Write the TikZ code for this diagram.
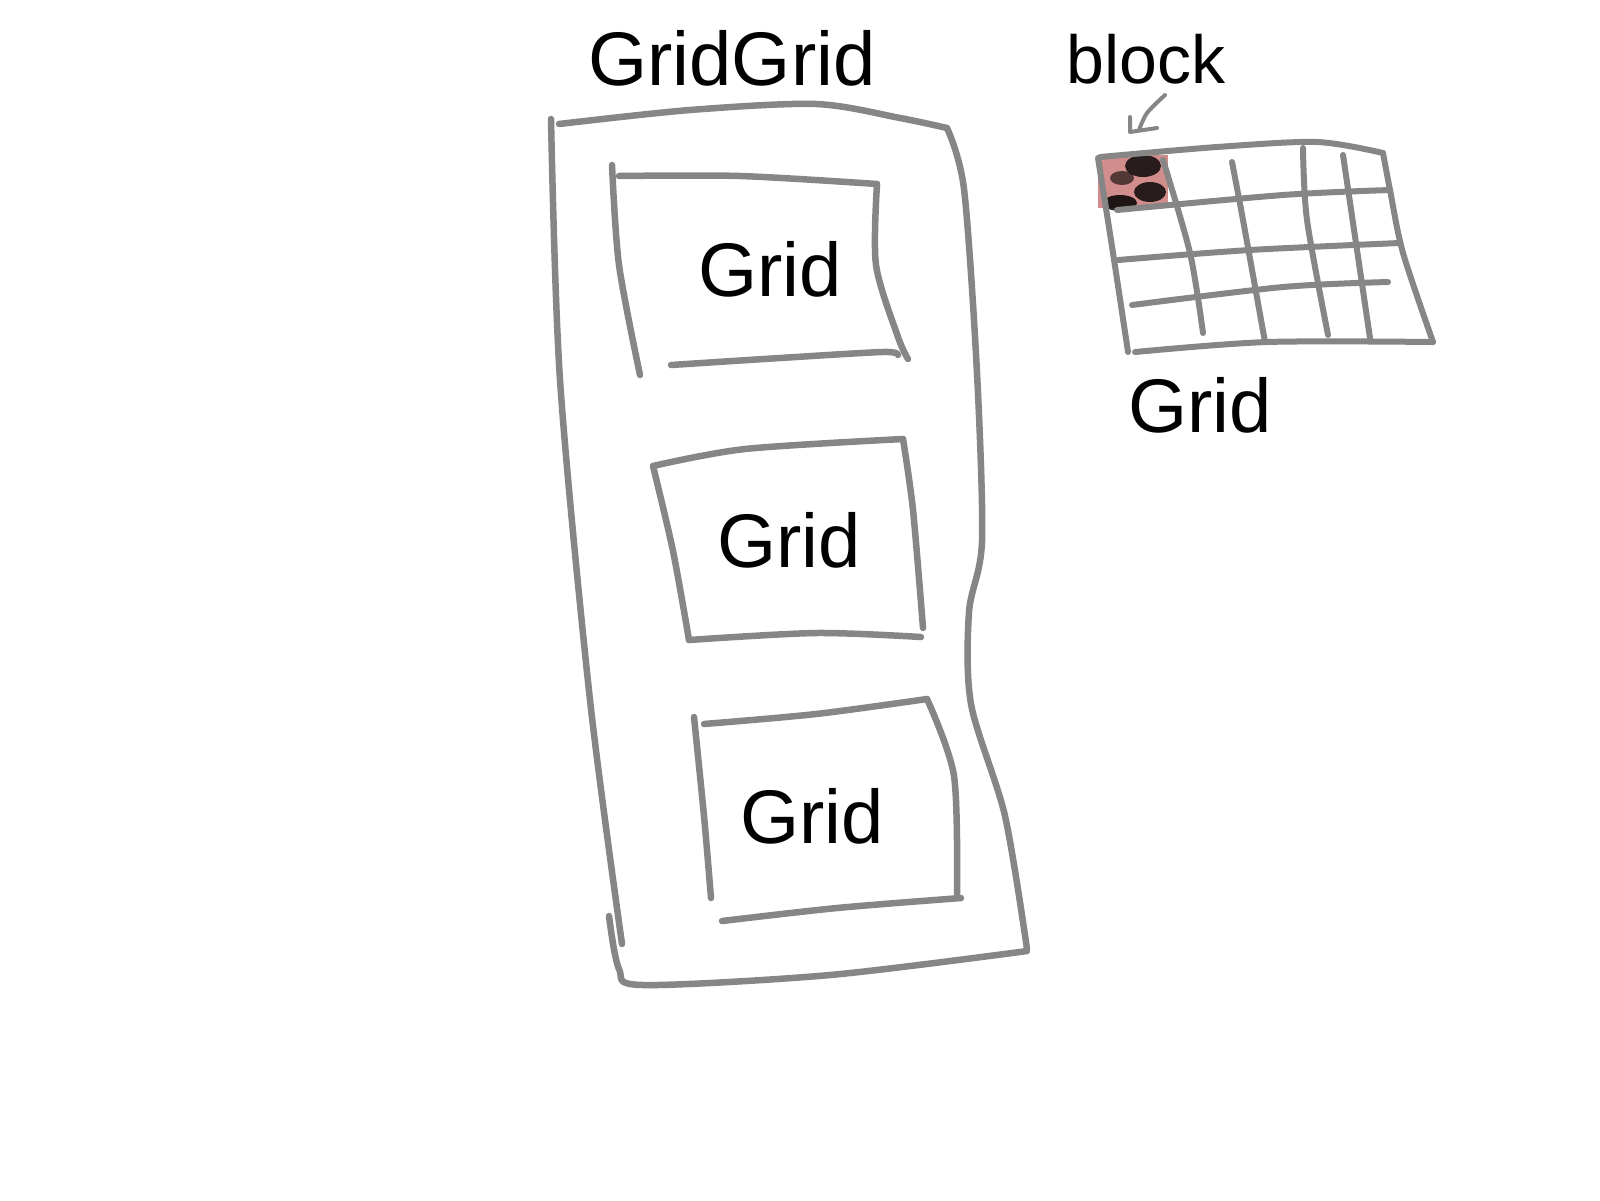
\documentclass[tikz,border=0pt]{standalone}
\usepackage{fontspec}
\setmainfont{Liberation Sans}
\usepackage{tikz}

\begin{document}
\begin{tikzpicture}[x=1pt, y=-1pt,
	stroke/.style={draw=gray!95, line width=6.5pt, line cap=round, line join=round},
	thin stroke/.style={stroke, line width=6pt},
	big label/.style={anchor=base, inner sep=0pt, font=\fontsize{76}{80}\selectfont},
	small label/.style={anchor=base, inner sep=0pt, font=\fontsize{68}{72}\selectfont}]
	\useasboundingbox (0,0) rectangle (1600,1200);
	% outer GridGrid box
	\draw[stroke] plot[smooth, tension=.5] coordinates {(559,124) (690,110) (816,104) (900,118) (947,128)};
	\draw[stroke] plot[smooth, tension=.5] coordinates {(551,119) (560,380) (590,700) (622,944)};
	\draw[stroke] plot[smooth, tension=.5] coordinates {(609,916) (619,969) (643,985) (830,975) (1027,951)};
	\draw[stroke] plot[smooth, tension=.5] coordinates {(947,128) (964,189) (977,373) (982,541) (969,612) (971,704) (1005,816) (1027,949)};
	% first Grid
	\draw[stroke] plot[smooth, tension=.5] coordinates {(619,176) (740,176) (877,184)};
	\draw[stroke] plot[smooth, tension=.5] coordinates {(612,165) (619,265) (640,375)};
	\draw[stroke] plot[smooth, tension=.5] coordinates {(877,184) (876,265) (898,337) (908,359)};
	\draw[stroke] plot[smooth, tension=.5] coordinates {(671,365) (780,358) (883,352) (898,355)};
	% second Grid
	\draw[stroke] plot[smooth, tension=.5] coordinates {(653,466) (745,449) (903,439)};
	\draw[stroke] plot[smooth, tension=.5] coordinates {(653,466) (673,551) (689,640)};
	\draw[stroke] plot[smooth, tension=.5] coordinates {(903,439) (913,510) (923,628)};
	\draw[stroke] plot[smooth, tension=.5] coordinates {(689,640) (816,633) (921,637)};
	% third Grid
	\draw[stroke] plot[smooth, tension=.5] coordinates {(704,724) (816,714) (927,699)};
	\draw[stroke] plot[smooth, tension=.5] coordinates {(694,717) (704,816) (711,898)};
	\draw[stroke] plot[smooth, tension=.5] coordinates {(927,699) (954,776) (957,896)};
	\draw[stroke] plot[smooth, tension=.5] coordinates {(722,921) (837,908) (961,898)};
	% the block
	\fill[red!60!black, opacity=.45] (1098,155) rectangle (1168,208);
	\fill[black, opacity=.8] (1143,166) ellipse (18pt and 11pt);
	\fill[black, opacity=.8] (1150,192) ellipse (16pt and 10pt);
	\fill[black, opacity=.85] (1120,203) ellipse (17pt and 8pt);
	\fill[black, opacity=.6] (1122,178) ellipse (12pt and 7pt);
	% small Grid of blocks
	\draw[thin stroke] plot[smooth, tension=.5] coordinates {(1100,157) (1217,147) (1317,142) (1383,153)};
	\draw[thin stroke] plot[smooth, tension=.5] coordinates {(1098,158) (1113,253) (1128,352)};
	\draw[thin stroke] plot[smooth, tension=.5] coordinates {(1135,352) (1267,342) (1433,342)};
	\draw[thin stroke] plot[smooth, tension=.5] coordinates {(1383,153) (1390,190) (1403,253) (1433,342)};
	\draw[thin stroke] plot[smooth, tension=.5] coordinates {(1117,210) (1283,195) (1390,190)};
	\draw[thin stroke] plot[smooth, tension=.5] coordinates {(1118,260) (1250,250) (1400,243)};
	\draw[thin stroke] plot[smooth, tension=.5] coordinates {(1132,305) (1283,287) (1388,282)};
	\draw[thin stroke] plot[smooth, tension=.5] coordinates {(1163,160) (1190,253) (1203,333)};
	\draw[thin stroke] plot[smooth, tension=.5] coordinates {(1232,162) (1243,220) (1265,342)};
	\draw[thin stroke] plot[smooth, tension=.5] coordinates {(1303,148) (1307,220) (1328,335)};
	\draw[thin stroke] plot[smooth, tension=.5] coordinates {(1343,155) (1357,250) (1370,338)};
	% hand arrow
	\draw[thin stroke, line width=4pt] plot[smooth, tension=.5] coordinates {(1165,95) (1147,113) (1139,130)};
	\draw[thin stroke, line width=4pt] (1130,117) -- (1130,132) -- (1157,128);
	% labels
	\node[big label] (gridgrid) at (732,85) {GridGrid};
	\node[big label] (grid1) at (770,296) {Grid};
	\node[big label] (grid2) at (789,567) {Grid};
	\node[big label] (grid3) at (812,843) {Grid};
	\node[big label] (gridsmall) at (1200,432) {Grid};
	\node[small label] (blocklbl) at (1146,83) {block};
\end{tikzpicture}
\end{document}
